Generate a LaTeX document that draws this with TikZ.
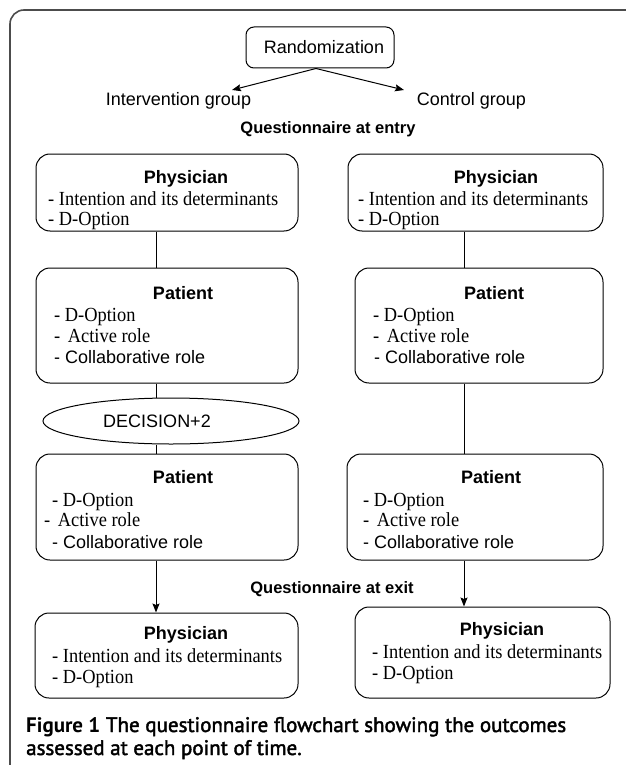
\documentclass[tikz,border=0pt]{standalone}
\usepackage{fontspec}
\setmainfont{Liberation Serif}[FakeStretch=0.92]
\setsansfont{Liberation Sans}
\newfontfamily\capfont{PT Sans}
\newfontfamily\capsemi[FakeBold=2]{PT Sans}
\usetikzlibrary{shapes.geometric,arrows.meta}
\begin{document}
\begin{tikzpicture}[x=1pt,y=-1pt,
  box/.style={draw, line width=1pt, rounded corners=14pt, inner sep=0pt},
  tline/.style={anchor=base west, inner sep=0pt, font=\fontsize{20}{21}\selectfont},
  sline/.style={anchor=base west, inner sep=0pt, font=\sffamily\fontsize{18}{20}\selectfont},
  ttl/.style={anchor=base, inner sep=0pt, font=\sffamily\bfseries\fontsize{18}{20}\selectfont},
  qhead/.style={anchor=base, inner sep=0pt, font=\sffamily\bfseries\fontsize{16.5}{18}\selectfont},
  plain/.style={anchor=base, inner sep=0pt, font=\sffamily\fontsize{18}{20}\selectfont},
  conn/.style={line width=1pt},
  arr/.style={line width=1pt, -{Stealth[length=9pt,width=7pt,inset=1.5pt]}},
  frame/.style={line width=1.6pt, draw=black!70, rounded corners=14pt},
  captxt/.style={anchor=base west, inner sep=0pt, font=\capsemi\fontsize{21}{23}\selectfont}
]
\useasboundingbox (0,0) rectangle (625,765);
% outer frame
\draw[frame] (632,10) -- (10,10) -- (10,772);

% randomization
\node[box, rounded corners=8pt, minimum width=148pt, minimum height=41pt,
      font=\sffamily\fontsize{18}{20}\selectfont] (rand) at (320,47.5) {\hspace{8pt}Randomization};
\node[plain] (ig) at (178.5,106) {Intervention group};
\node[plain] (cg) at (471.5,106) {Control group};
\coordinate (tipL) at (232,90);
\coordinate (tipR) at (404,90);
\draw[arr] ([xshift=-4pt]rand.south) -- (tipL);
\draw[arr] ([xshift=-4pt]rand.south) -- (tipR);

\node[qhead] (qentry) at (328,134) {Questionnaire at entry};

% column x positions
\coordinate (lx) at (156,0);
\coordinate (rx) at (464,0);

% entry physician boxes
\node[box, minimum width=262pt, minimum height=77pt] (pe1) at (167,192.5) {};
\node[box, minimum width=255pt, minimum height=77pt] (pe2) at (475.5,192.5) {};
\node[ttl] (pe1t) at (186,183) {Physician};
\node[tline] (pe1a) at (48,205) {- Intention and its determinants};
\node[tline] (pe1b) at (48,225) {- D-Option};
\node[ttl] (pe2t) at (496,183) {Physician};
\node[tline] (pe2a) at (358,205) {- Intention and its determinants};
\node[tline] (pe2b) at (358,225) {- D-Option};

% first patient boxes
\node[box, minimum width=262pt, minimum height=115pt] (pa1) at (167,325.5) {};
\node[box, minimum width=248pt, minimum height=115pt] (pa2) at (479,325.5) {};
\node[ttl] (pa1t) at (183,299) {Patient};
\node[tline] (pa1a) at (54,321) {- D-Option};
\node[tline] (pa1b) at (54,342) {-\hspace{3pt} Active role};
\node[sline] (pa1c) at (54,363) {- Collaborative role};
\node[ttl] (pa2t) at (494,299) {Patient};
\node[tline] (pa2a) at (373,321) {- D-Option};
\node[tline] (pa2b) at (373,342) {-\hspace{3pt} Active role};
\node[sline] (pa2c) at (374,363) {- Collaborative role};

% decision ellipse
\node[draw, ellipse, line width=1pt, minimum width=256pt, minimum height=46pt, inner sep=0pt] (dec) at (171,421) {};
\node[plain] (dect) at (157,427) {DECISION+2};

% second patient boxes
\node[box, minimum width=262pt, minimum height=106pt] (pb1) at (167,507) {};
\node[box, minimum width=256pt, minimum height=106pt] (pb2) at (475,507) {};
\node[ttl] (pb1t) at (183,483) {Patient};
\node[tline] (pb1a) at (52,506) {- D-Option};
\node[tline] (pb1b) at (44,526) {-\hspace{3pt} Active role};
\node[sline] (pb1c) at (52,548) {- Collaborative role};
\node[ttl] (pb2t) at (491,483) {Patient};
\node[tline] (pb2a) at (363,506) {- D-Option};
\node[tline] (pb2b) at (363,526) {-\hspace{3pt} Active role};
\node[sline] (pb2c) at (363,548) {- Collaborative role};

\node[qhead] (qexit) at (332,593) {Questionnaire at exit};

% exit physician boxes
\node[box, minimum width=263pt, minimum height=85pt] (px1) at (166.5,655.5) {};
\node[box, minimum width=255pt, minimum height=91pt] (px2) at (482.5,652.5) {};
\node[ttl] (px1t) at (186,639) {Physician};
\node[tline] (px1a) at (52,662) {- Intention and its determinants};
\node[tline] (px1b) at (52,683) {- D-Option};
\node[ttl] (px2t) at (502,635) {Physician};
\node[tline] (px2a) at (372,658) {- Intention and its determinants};
\node[tline] (px2b) at (372,679) {- D-Option};

% connectors, left column
\draw[conn] (pe1.south -| lx) -- (pa1.north -| lx);
\draw[conn] (pa1.south -| lx) -- (dec.north -| lx);
\draw[conn] (dec.south -| lx) -- (pb1.north -| lx);
\draw[arr] (pb1.south -| lx) -- (px1.north -| lx);
% connectors, right column
\draw[conn] (pe2.south -| rx) -- (pa2.north -| rx);
\draw[conn] (pa2.south -| rx) -- (pb2.north -| rx);
\draw[arr] (pb2.south -| rx) -- (px2.north -| rx);

% caption
\node[captxt] (cap1) at (26,732)
  {{\capfont\bfseries Figure 1} The questionnaire flowchart showing the outcomes};
\node[captxt] (cap2) at (26,755)
  {assessed at each point of time.};
\end{tikzpicture}
\end{document}
